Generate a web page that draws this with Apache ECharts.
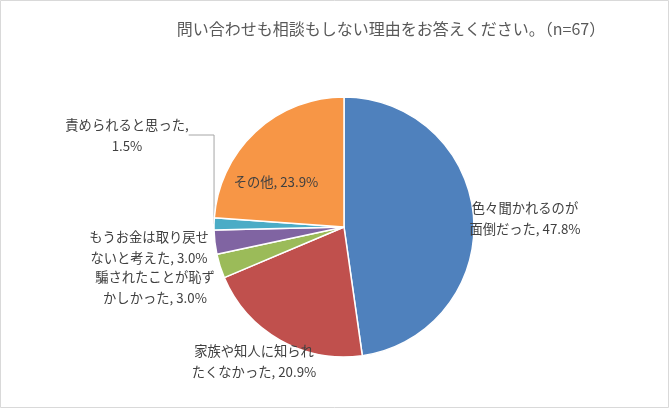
<!DOCTYPE html>
<html>
<head>
<meta charset="utf-8">
<script src="https://cdn.jsdelivr.net/npm/echarts@6/dist/echarts.min.js"></script>
<style>
html,body{margin:0;padding:0;background:#fff;}
#chart{width:670px;height:409px;}
</style>
</head>
<body>
<div id="chart"></div>
<script>
// ---- data ----
const titleText = '問い合わせも相談もしない理由をお答えください。（n=67）';
const categories = [
  '色々聞かれるのが\n面倒だった',
  '家族や知人に知られ\nたくなかった',
  '騙されたことが恥ず\nかしかった',
  'もうお金は取り戻せ\nないと考えた',
  '責められると思った',
  'その他'
];
const percents = [47.8, 20.9, 3.0, 3.0, 1.5, 23.9];
const separators = [', ', ', ', ', ', ', ', ',\n', ', '];

// ---- styles / layout ----
const colors = ['#4F81BD', '#C0504D', '#9BBB59', '#8064A2', '#4BACC6', '#F79646'];
const labelPos = [
  [525, 218], [254, 361], [155, 287], [149, 247], [127, 135], [276, 182]
];

const chart = echarts.init(document.getElementById('chart'), null, {renderer: 'canvas'});
const font = '"Noto Sans CJK JP", "Noto Sans", sans-serif';

const data = categories.map((c, i) => ({
  name: c,
  value: percents[i],
  itemStyle: {color: colors[i]},
  labelLine: {show: i === 4}
}));

chart.setOption({
  animation: false,
  backgroundColor: '#fff',
  title: {
    text: titleText,
    left: 386,
    top: 16,
    textAlign: 'center',
    textStyle: {fontFamily: font, fontSize: 16, fontWeight: 'normal', color: '#595959'}
  },
  graphic: [{
    type: 'rect',
    shape: {x: 0.5, y: 0.5, width: 668, height: 407},
    style: {fill: 'none', stroke: '#d9d9d9', lineWidth: 1},
    silent: true
  }],
  series: [{
    type: 'pie',
    center: [344, 227],
    radius: 130,
    startAngle: 90,
    clockwise: true,
    data: data,
    itemStyle: {borderColor: '#fff', borderWidth: 1.5},
    label: {
      show: true,
      position: 'outside',
      fontFamily: font,
      fontSize: 13.3,
      lineHeight: 21,
      color: '#404040',
      formatter: p => p.name + separators[p.dataIndex] + p.value.toFixed(1) + '%'
    },
    labelLine: {
      show: false,
      lineStyle: {color: '#a6a6a6', width: 1}
    },
    labelLayout: p => ({
      x: labelPos[p.dataIndex][0],
      y: labelPos[p.dataIndex][1],
      align: 'center',
      verticalAlign: 'middle'
    }),
    emphasis: {disabled: true}
  }]
});
</script>
</body>
</html>
